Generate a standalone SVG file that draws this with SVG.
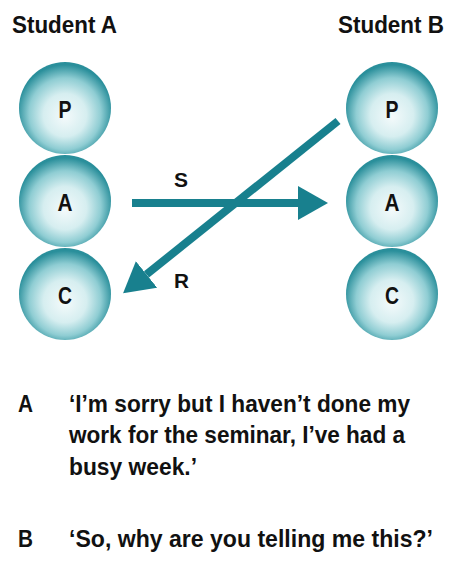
<svg xmlns="http://www.w3.org/2000/svg" width="454" height="562" viewBox="0 0 454 562">
<defs>
<radialGradient id="ball" cx="50%" cy="55%" r="52%" fx="50%" fy="60%">
<stop offset="0" stop-color="#f4fafb"/>
<stop offset="0.45" stop-color="#d6eef0"/>
<stop offset="0.75" stop-color="#8fcdd3"/>
<stop offset="1" stop-color="#2a8f9b"/>
</radialGradient>
<marker id="head" markerUnits="userSpaceOnUse" viewBox="0 0 30 34" refX="0" refY="17" markerWidth="30" markerHeight="34" orient="auto">
<path d="M0,0 L30,17 L0,34 z" fill="#18808e"/>
</marker>
<style>
.ball{fill:url(#ball);}
.lt{font-family:"Liberation Sans",Arial,sans-serif;font-weight:bold;font-size:24px;fill:#111;}
.lb{font-family:"Liberation Sans",Arial,sans-serif;font-weight:bold;font-size:21px;fill:#111;}
.t{font-family:"Liberation Sans",Arial,sans-serif;font-weight:bold;font-size:24px;fill:#111;}
.ar{stroke:#18808e;stroke-width:8;fill:none;}
</style>
</defs>
<rect width="454" height="562" fill="#fff"/>
<text class="t" x="12" y="33" textLength="105" lengthAdjust="spacingAndGlyphs">Student A</text>
<text class="t" x="338" y="33" textLength="106" lengthAdjust="spacingAndGlyphs">Student B</text>
<g id="studentA">
<g id="A-P"><circle class="ball" cx="65" cy="108" r="46"/><text class="lt" x="58.5" y="117.5" textLength="13" lengthAdjust="spacingAndGlyphs">P</text></g>
<g id="A-A"><circle class="ball" cx="65" cy="201" r="46"/><text class="lt" x="57.5" y="210.5" textLength="15" lengthAdjust="spacingAndGlyphs">A</text></g>
<g id="A-C"><circle class="ball" cx="65" cy="294" r="46"/><text class="lt" x="58" y="303.5" textLength="14" lengthAdjust="spacingAndGlyphs">C</text></g>
</g>
<g id="studentB">
<g id="B-P"><circle class="ball" cx="392" cy="108" r="46"/><text class="lt" x="385.5" y="117.5" textLength="13" lengthAdjust="spacingAndGlyphs">P</text></g>
<g id="B-A"><circle class="ball" cx="392" cy="201" r="46"/><text class="lt" x="384.5" y="210.5" textLength="15" lengthAdjust="spacingAndGlyphs">A</text></g>
<g id="B-C"><circle class="ball" cx="392" cy="294" r="46"/><text class="lt" x="385" y="303.5" textLength="14" lengthAdjust="spacingAndGlyphs">C</text></g>
</g>
<g id="connectors">
<line class="ar" x1="132" y1="203" x2="298" y2="203" marker-end="url(#head)"/>
<line class="ar" x1="338" y1="121" x2="146.5" y2="274.4" marker-end="url(#head)"/>
<text class="lb" x="174" y="187" textLength="14" lengthAdjust="spacingAndGlyphs">S</text>
<text class="lb" x="174" y="288" textLength="15" lengthAdjust="spacingAndGlyphs">R</text>
</g>
<g id="dialogue">
<text class="t" x="18" y="412" textLength="15" lengthAdjust="spacingAndGlyphs">A</text>
<text class="t" x="69" y="412" textLength="341" lengthAdjust="spacingAndGlyphs">‘I’m sorry but I haven’t done my</text>
<text class="t" x="69" y="443" textLength="336" lengthAdjust="spacingAndGlyphs">work for the seminar, I’ve had a</text>
<text class="t" x="69" y="475" textLength="128" lengthAdjust="spacingAndGlyphs">busy week.’</text>
<text class="t" x="18" y="547" textLength="15" lengthAdjust="spacingAndGlyphs">B</text>
<text class="t" x="69" y="547" textLength="364" lengthAdjust="spacingAndGlyphs">‘So, why are you telling me this?’</text>
</g>
</svg>
